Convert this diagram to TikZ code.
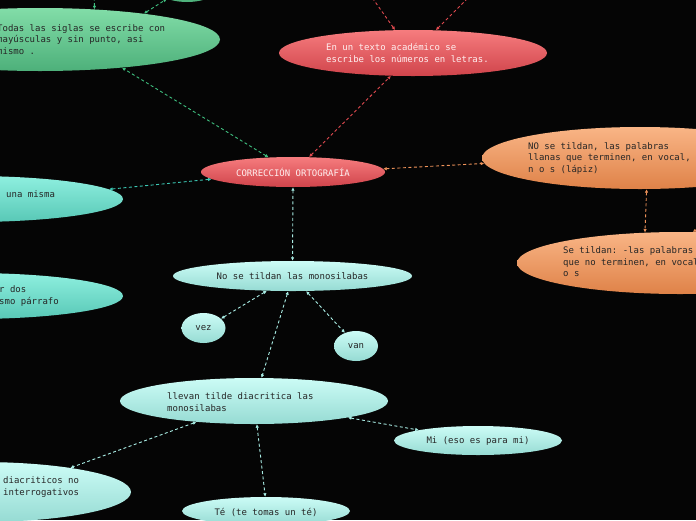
\documentclass[tikz,border=0pt]{standalone}
\usepackage{fontspec}
\setmonofont{DejaVu Sans Mono}
\usetikzlibrary{shapes.geometric,arrows.meta}
\definecolor{bgc}{HTML}{050505}
\definecolor{gTop}{HTML}{82DDA8}
\definecolor{gBot}{HTML}{4DB07A}
\definecolor{rTop}{HTML}{F67C7E}
\definecolor{rBot}{HTML}{D0444B}
\definecolor{oTop}{HTML}{F9B586}
\definecolor{oBot}{HTML}{DF8248}
\definecolor{cTop}{HTML}{8EEFDF}
\definecolor{cBot}{HTML}{58C8B6}
\definecolor{lTop}{HTML}{CCFCF6}
\definecolor{lBot}{HTML}{96DBD3}
\definecolor{lnG}{HTML}{3FBF7F}
\definecolor{lnR}{HTML}{E04A4F}
\definecolor{lnO}{HTML}{F0935A}
\definecolor{lnT}{HTML}{3CC8B4}
\definecolor{lnL}{HTML}{A8ECE4}
\definecolor{txd}{HTML}{262626}
\definecolor{txw}{HTML}{FFF0F0}
\begin{document}
\begin{tikzpicture}[x=1pt,y=-1pt,
  ell/.style={shape=ellipse, inner sep=0pt, draw=none},
  green/.style={ell, top color=gTop, bottom color=gBot},
  red/.style={ell, top color=rTop, bottom color=rBot},
  orange/.style={ell, top color=oTop, bottom color=oBot},
  cyan/.style={ell, top color=cTop, bottom color=cBot},
  light/.style={ell, top color=lTop, bottom color=lBot},
  txt/.style={font=\ttfamily\fontsize{9}{11.5}\selectfont, text=txd, inner sep=0pt, align=left},
  wtxt/.style={txt, text=txw},
  conn/.style={dash pattern=on 3pt off 2.5pt, line width=0.9pt,
    arrows={Latex[length=3.5pt,width=3.5pt]-Latex[length=3.5pt,width=3.5pt]}}
]
\useasboundingbox (0,0) rectangle (696,520);
\fill[bgc] (0,0) rectangle (696,520);
\clip (0,0) rectangle (696,520);

% ellipses
\node[green, minimum width=80pt, minimum height=48pt] (G0) at (187,-22) {};
\node[green, minimum width=360pt, minimum height=63pt] (G1) at (40,39.5) {};
\node[red, minimum width=268pt, minimum height=46pt] (R1) at (413,53) {};
\node[red, minimum width=184pt, minimum height=30pt] (M) at (293,172) {};
\node[orange, minimum width=316pt, minimum height=62pt] (O1) at (640,158) {};
\node[orange, minimum width=326pt, minimum height=62pt] (O2) at (680,263) {};
\node[cyan, minimum width=306pt, minimum height=46pt] (C1) at (-30,199) {};
\node[cyan, minimum width=306pt, minimum height=46pt] (C2) at (-30,296) {};
\node[light, minimum width=239pt, minimum height=30pt] (N) at (292.5,276) {};
\node[light, minimum width=44pt, minimum height=30pt] (V) at (203.5,328) {};
\node[light, minimum width=44pt, minimum height=30pt] (A) at (356,346) {};
\node[light, minimum width=268pt, minimum height=46pt] (L) at (254,401) {};
\node[light, minimum width=168pt, minimum height=29pt] (Mi) at (478,440.5) {};
\node[light, minimum width=302pt, minimum height=60pt] (C3) at (-20,492) {};
\node[light, minimum width=168pt, minimum height=28pt] (T) at (266,511) {};

% texts
\node[txt, anchor=west] (tG1) at (-3,39.5) {Todas las siglas se escribe con\\may\'usculas y sin punto, asi\\mismo .};
\node[wtxt, anchor=west] (tR1) at (326,53) {En un texto acad\'emico se\\escribe los n\'umeros en letras.};
\node[wtxt] (tM) at (293,172) {CORRECCI\'ON ORTOGRAF\'IA};
\node[txt, anchor=west] (tO1) at (528,158) {NO se tildan, las palabras\\llanas que terminen, en vocal,\\n o s (l\'apiz)};
\node[txt, anchor=west] (tO2) at (563,262) {Se tildan: -las palabras\\que no terminen, en vocal,\\o s};
\node[txt, anchor=west] (tC1) at (6,194) {una misma};
\node[txt, anchor=west] (tC2) at (-1,296) {r dos\\smo p\'arrafo};
\node[txt] (tN) at (292.5,276) {No se tildan las monosilabas};
\node[txt] (tV) at (203.5,328.5) {vez};
\node[txt] (tA) at (356,346.5) {van};
\node[txt, anchor=west] (tL) at (167,402) {llevan tilde diacritica las\\monosilabas};
\node[txt] (tMi) at (478,441) {Mi (eso es para mi)};
\node[txt, anchor=west] (tC3) at (3,487) {diacriticos no\\interrogativos};
\node[txt] (tT) at (266,512) {T\'e (te tomas un t\'e)};

% free ends
\coordinate (offG) at (94,-8);
\coordinate (offR1) at (371,-4);
\coordinate (offR2) at (470,-4);
\coordinate (offO) at (702,227);

% connectors
\draw[conn, lnG] (M.149) -- (G1.341.3);
\draw[conn, lnG] (G1.29.5) -- (offG);
\draw[conn, lnG] (G1.14) -- (G0.226);
\draw[conn, lnR] (M.43) -- (R1.226);
\draw[conn, lnR] (R1.128.7) -- (offR1);
\draw[conn, lnR] (R1.45) -- (offR2);
\draw[conn, lnO] (M.2.5) -- (O1.182);
\draw[conn, lnO] (O1.282) -- (O2.139);
\draw[conn, lnO] (O2.68) -- (offO);
\draw[conn, lnT] (M.185) -- (C1.4.5);
\draw[conn, lnL] (M.south) -- (N.north);
\draw[conn, lnL] (N.210) -- (V.28);
\draw[conn, lnL] (N.312) -- (A.130);
\draw[conn, lnL] (N.254) -- (L.72);
\draw[conn, lnL] (L.200) -- (C3.15.7);
\draw[conn, lnL] (L.277) -- (T.93);
\draw[conn, lnL] (L.350) -- (Mi.170);
\end{tikzpicture}
\end{document}
